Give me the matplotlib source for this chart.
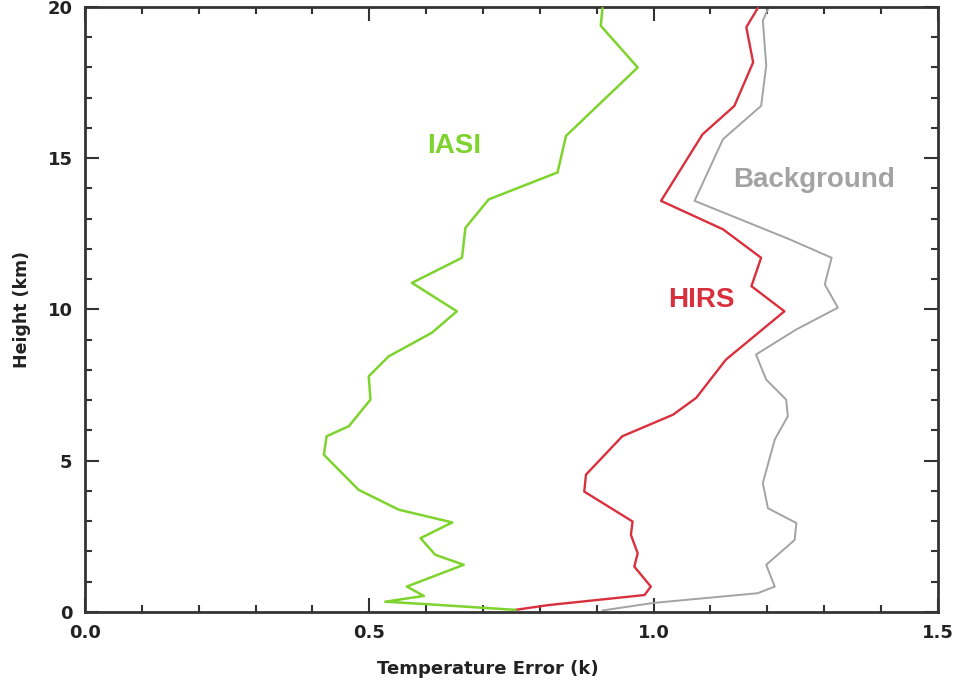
import numpy as np
import matplotlib.pyplot as plt
from matplotlib.ticker import MultipleLocator

# temperature error (k) vs height (km)
iasi_err = [0.910, 0.907, 0.972, 0.846, 0.831, 0.710, 0.669, 0.663, 0.575, 0.654,
            0.610, 0.534, 0.499, 0.502, 0.464, 0.425, 0.420, 0.481, 0.552, 0.646,
            0.590, 0.616, 0.666, 0.566, 0.596, 0.528, 0.599, 0.757]
iasi_h = [19.95, 19.38, 18.00, 15.74, 14.53, 13.64, 12.70, 11.71, 10.88, 9.94,
          9.23, 8.45, 7.79, 7.02, 6.14, 5.81, 5.20, 4.04, 3.38, 2.96,
          2.44, 1.89, 1.56, 0.84, 0.53, 0.34, 0.26, 0.07]

hirs_err = [1.183, 1.163, 1.175, 1.142, 1.086, 1.013, 1.122, 1.189, 1.172, 1.230,
            1.127, 1.075, 1.034, 0.945, 0.881, 0.878, 0.963, 0.960, 0.972, 0.966,
            0.995, 0.984, 0.816, 0.757]
hirs_h = [19.96, 19.33, 18.17, 16.73, 15.79, 13.59, 12.65, 11.71, 10.77, 9.94,
          8.34, 7.08, 6.52, 5.81, 4.54, 3.98, 2.99, 2.55, 1.94, 1.50,
          0.84, 0.56, 0.23, 0.07]

bg_err = [1.201, 1.192, 1.198, 1.189, 1.122, 1.072, 1.239, 1.313, 1.301, 1.324,
          1.251, 1.180, 1.198, 1.233, 1.236, 1.213, 1.192, 1.201, 1.251, 1.248,
          1.198, 1.213, 1.183, 1.000, 0.910]
bg_h = [19.93, 19.55, 18.06, 16.73, 15.63, 13.59, 12.32, 11.71, 10.83, 10.06,
        9.34, 8.51, 7.68, 7.02, 6.47, 5.70, 4.26, 3.43, 2.94, 2.38,
        1.56, 0.84, 0.62, 0.30, 0.05]

GREEN = "#7ed32e"
RED = "#d9303e"
GRAY = "#a3a3a3"
DARK = "#333333"
TXT = "#222222"

plt.rcParams["font.family"] = ["DejaVu Sans"]

fig = plt.figure(figsize=(9.57, 6.84), dpi=100)
ax = fig.add_axes([0.0888, 0.1053, 0.8913, 0.8845])

ax.plot(bg_err, bg_h, color=GRAY, lw=1.4, zorder=2)
ax.plot(hirs_err, hirs_h, color=RED, lw=1.7, zorder=3)
ax.plot(iasi_err, iasi_h, color=GREEN, lw=1.8, zorder=4)

lab_font = dict(family="Liberation Sans", fontsize=20, fontweight="bold",
                ha="center", va="center")
ax.text(0.649, 15.4, "IASI", color=GREEN, **lab_font)
ax.text(1.084, 10.3, "HIRS", color=RED, **lab_font)
ax.text(1.282, 14.27, "Background", color=GRAY, **lab_font)

ax.set_xlim(0, 1.5)
ax.set_ylim(0, 20)
ax.xaxis.set_major_locator(MultipleLocator(0.5))
ax.xaxis.set_minor_locator(MultipleLocator(0.1))
ax.yaxis.set_major_locator(MultipleLocator(5))
ax.yaxis.set_minor_locator(MultipleLocator(1))
ax.xaxis.set_major_formatter(plt.FuncFormatter(lambda v, p: f"{v:.1f}"))

ax.tick_params(which="both", direction="in", top=True, right=True,
               color=DARK, width=1.5, labelsize=13, labelcolor=TXT)
ax.tick_params(which="major", length=10, pad=9)
ax.tick_params(which="minor", length=5)
for lab in ax.get_xticklabels() + ax.get_yticklabels():
    lab.set_fontweight("bold")

for s in ax.spines.values():
    s.set_color(DARK)
    s.set_linewidth(2)

ax.set_xlabel("Temperature Error (k)", fontsize=13, fontweight="bold",
              color=TXT)
ax.xaxis.set_label_coords(0.472, -0.08)
ax.set_ylabel("Height (km)", fontsize=12.5, fontweight="bold",
              color=TXT, labelpad=12)

fig.savefig("out.png", dpi=100)
